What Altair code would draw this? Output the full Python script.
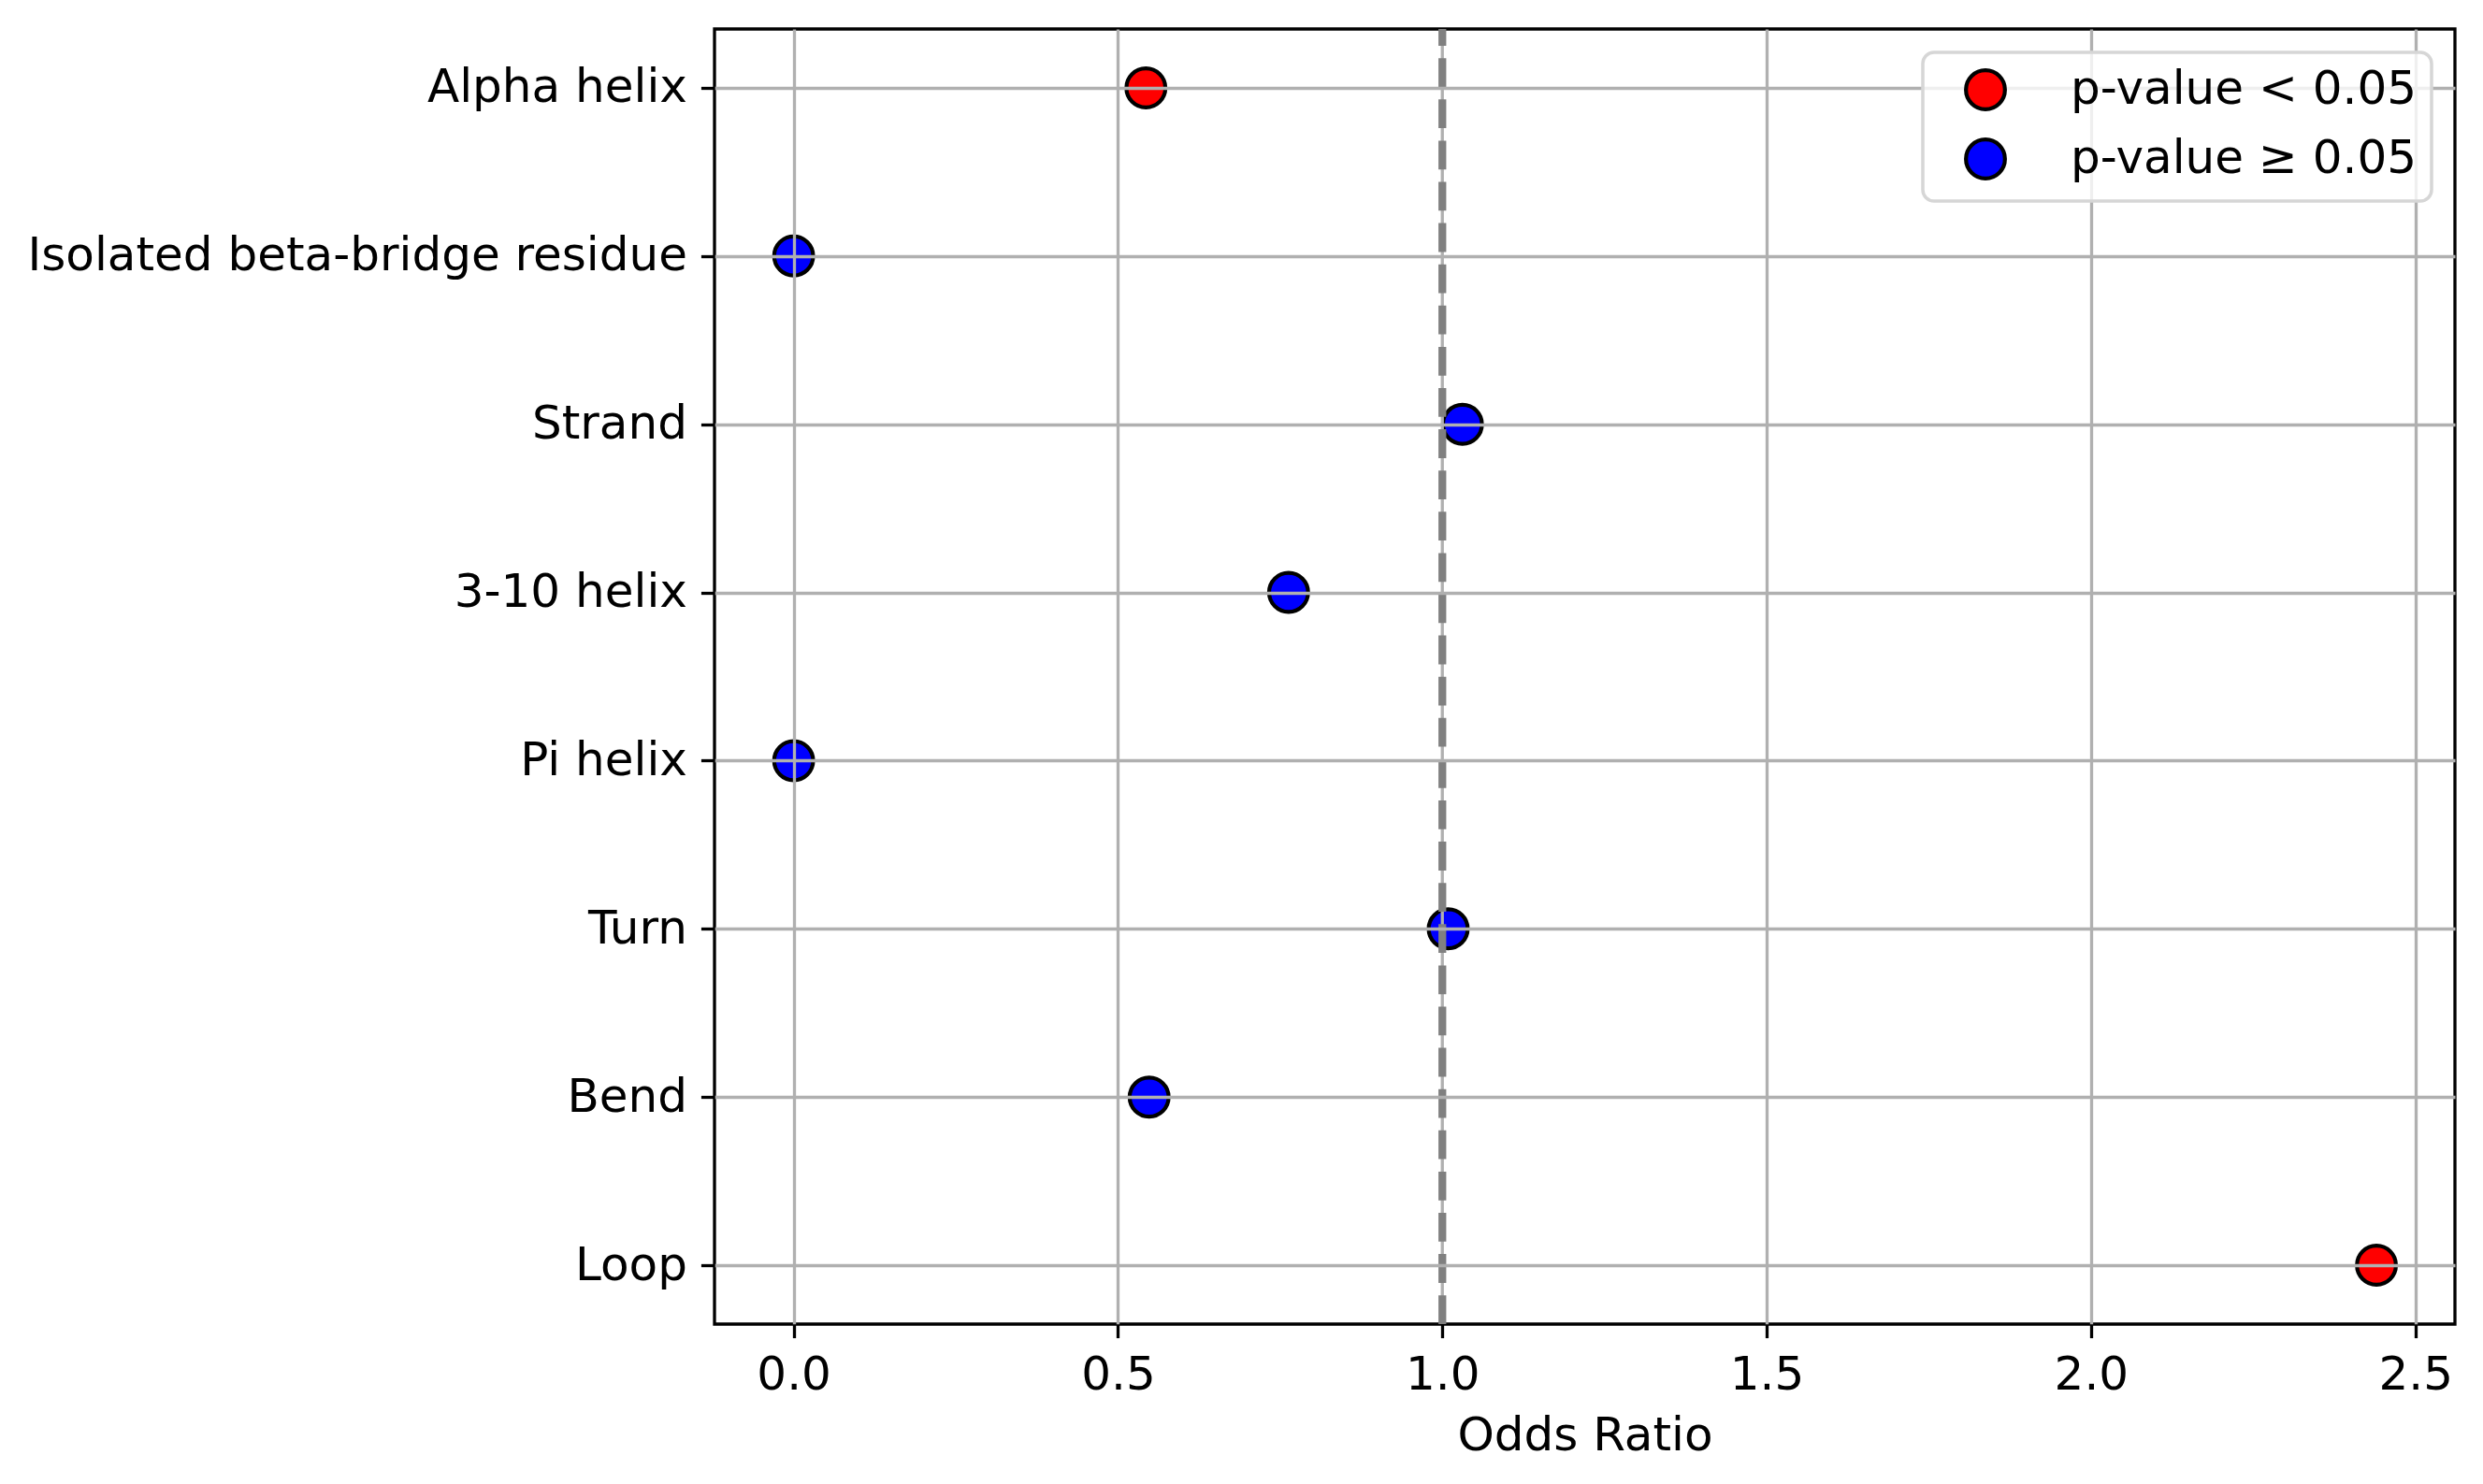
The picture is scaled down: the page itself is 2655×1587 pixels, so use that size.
import altair as alt
import pandas as pd

structures = ["Alpha helix", "Isolated beta-bridge residue", "Strand", "3-10 helix",
              "Pi helix", "Turn", "Bend", "Loop"]
odds_ratio = [0.543, 0.0, 1.031, 0.763, 0.0, 1.009, 0.548, 2.44]
significance = ["p-value < 0.05", "p-value ≥ 0.05", "p-value ≥ 0.05", "p-value ≥ 0.05",
                "p-value ≥ 0.05", "p-value ≥ 0.05", "p-value ≥ 0.05", "p-value < 0.05"]
sig_levels = ["p-value < 0.05", "p-value ≥ 0.05"]
sig_colors = ["#ff0000", "#0000ff"]
x_ticks = [0.0, 0.5, 1.0, 1.5, 2.0, 2.5]
ref_line = [1.0]

df = pd.DataFrame({"structure": structures, "odds": odds_ratio, "sig": significance})
ref_df = pd.DataFrame({"ref": ref_line})

FONT = "DejaVu Sans"
x_scale = alt.Scale(domain=[-0.122, 2.561], nice=False, zero=False)

points = alt.Chart(df).mark_circle(
    size=1739, opacity=1, stroke="black", strokeWidth=4.2
).encode(
    x=alt.X("odds:Q", scale=x_scale,
            axis=alt.Axis(values=x_ticks, format=".1f", title="Odds Ratio",
                          labelFontSize=50, labelFont=FONT, labelColor="black",
                          titleFontSize=50, titleFont=FONT, titleFontWeight="normal",
                          titleColor="black", titlePadding=15,
                          tickSize=14.6, tickWidth=3.3, tickColor="black",
                          labelPadding=15, domain=False,
                          grid=True, gridColor="#b0b0b0", gridWidth=3.3,
                          gridOpacity={"condition": {"test": "datum.value === 1", "value": 0}, "value": 1},
                          zindex=1)),
    y=alt.Y("structure:N", sort=structures, scale=alt.Scale(padding=0.35),
            axis=alt.Axis(title=None, labelFontSize=50, labelFont=FONT, labelColor="black",
                          tickSize=14.6, tickWidth=3.3, tickColor="black",
                          labelPadding=15, labelLimit=1000, domain=False,
                          grid=True, gridColor="#b0b0b0", gridWidth=3.3, zindex=1)),
    fill=alt.Fill("sig:N", scale=alt.Scale(domain=sig_levels, range=sig_colors),
                  legend=alt.Legend(title=None, orient="top-right", offset=25,
                                    labelFontSize=50, labelFont=FONT, labelColor="black",
                                    labelLimit=1000, symbolType="circle", symbolSize=1739,
                                    symbolStrokeColor="black", symbolStrokeWidth=4.2,
                                    symbolOpacity=1, symbolOffset=27, labelOffset=66,
                                    fillColor="rgba(255,255,255,0.8)",
                                    strokeColor="#d6d6d6", cornerRadius=12, zindex=3)),
)

grid_at_one = alt.Chart(ref_df).mark_rule(color="#b0b0b0", strokeWidth=3.3).encode(
    x=alt.X("ref:Q", scale=x_scale)
)

dashed = alt.Chart(ref_df).mark_rule(
    color="#808080", strokeWidth=8.3, strokeDash=[30.8, 13.3], strokeDashOffset=12.9
).encode(
    x=alt.X("ref:Q", scale=x_scale)
)

chart = alt.layer(points, grid_at_one, dashed).properties(
    width=1861, height=1385,
    padding={"left": 21, "top": 18, "right": 5, "bottom": 5},
    background="white",
).configure_view(
    stroke="black", strokeWidth=3.3
).configure_legend(
    padding=15, rowPadding=14, strokeWidth=3.5
)

chart.save("out.html", embed_options={"renderer": "svg", "actions": False})
